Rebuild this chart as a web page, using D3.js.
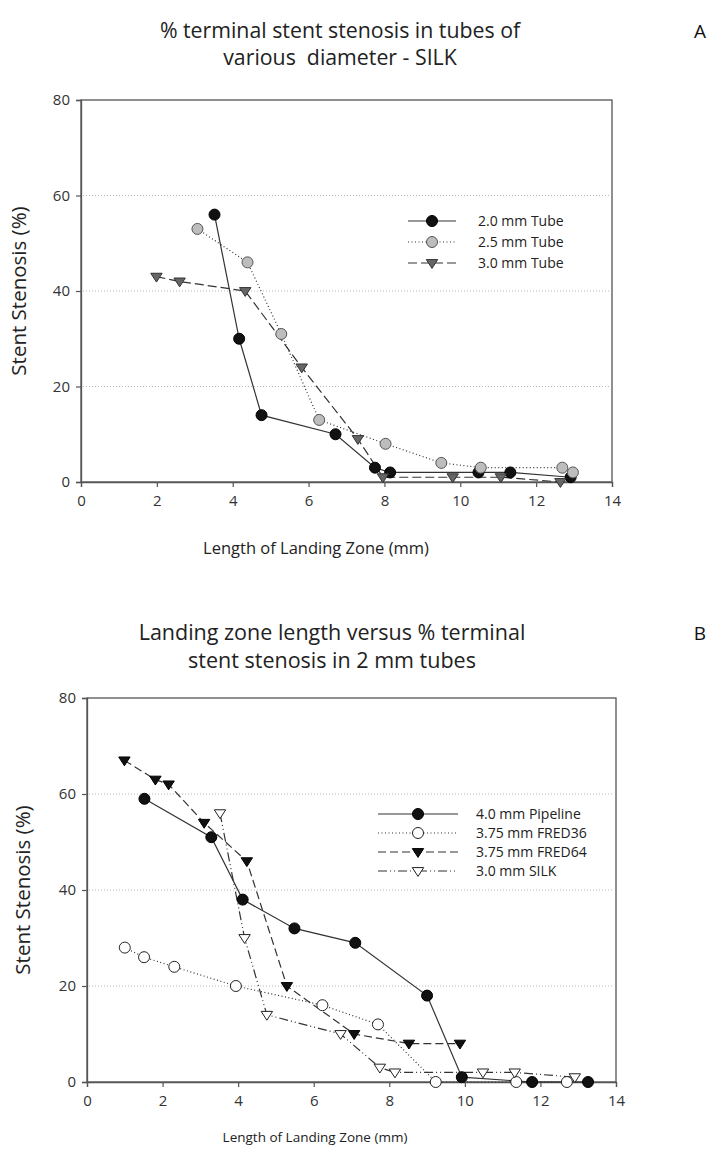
<!DOCTYPE html>
<html><head><meta charset="utf-8">
<script src="https://cdn.jsdelivr.net/npm/d3@7"></script>
<style>
html,body{margin:0;padding:0;background:#fff;}
svg{display:block;font-family:"Open Sans","Noto Sans",sans-serif;}
text{white-space:pre;}
</style></head>
<body><svg id="c" width="712" height="1153"></svg>
<script>
// ---- data ----
const xTicks = [0, 2, 4, 6, 8, 10, 12, 14];
const yTicks = [0, 20, 40, 60, 80];
const gridTicks = [20, 40, 60];

// Panel A
const titleA = ["% terminal stent stenosis in tubes of", "various  diameter - SILK"];
const seriesNamesA = ["2.0 mm Tube", "2.5 mm Tube", "3.0 mm Tube"];
const tube20X = [3.52, 4.17, 4.76, 6.71, 7.75, 8.15, 10.48, 11.32, 12.91];
const tube20Y = [56, 30, 14, 10, 3, 2, 2, 2, 1];
const tube25X = [3.07, 4.39, 5.28, 6.28, 8.03, 9.50, 10.54, 12.69, 12.97];
const tube25Y = [53, 46, 31, 13, 8, 4, 3, 3, 2];
const tube30X = [1.99, 2.60, 4.33, 5.82, 7.30, 7.96, 9.80, 11.07, 12.64];
const tube30Y = [43, 42, 40, 24, 9, 1, 1, 1, 0];

// Panel B
const titleB = ["Landing zone length versus % terminal", "stent stenosis in 2 mm tubes"];
const seriesNamesB = ["4.0 mm Pipeline", "3.75 mm FRED36", "3.75 mm FRED64", "3.0 mm SILK"];
const pipelineX = [1.52, 3.29, 4.12, 5.49, 7.10, 9.00, 9.92, 11.78, 13.26];
const pipelineY = [59, 51, 38, 32, 29, 18, 1, 0, 0];
const fred36X = [1.00, 1.51, 2.31, 3.94, 6.23, 7.70, 9.23, 11.36, 12.70];
const fred36Y = [28, 26, 24, 20, 16, 12, 0, 0, 0];
const fred64X = [0.99, 1.81, 2.16, 3.10, 4.23, 5.29, 7.07, 8.52, 9.87];
const fred64Y = [67, 63, 62, 54, 46, 20, 10, 8, 8];
const silkX = [3.52, 4.17, 4.76, 6.71, 7.75, 8.15, 10.48, 11.32, 12.91];
const silkY = [56, 30, 14, 10, 3, 2, 2, 2, 1];

const xLabel = "Length of Landing Zone (mm)";
const yLabel = "Stent Stenosis (%)";

// ---- drawing ----
const svg = d3.select("#c");
const zip = (xs, ys) => xs.map((x, i) => ({x, y: ys[i]}));

function marker(g, shape, cx, cy, st) {
  if (shape === "circle") {
    g.append("circle").attr("cx", cx).attr("cy", cy).attr("r", st.r || 5.5)
      .attr("fill", st.fill).attr("stroke", st.stroke).attr("stroke-width", 1);
  } else {
    const s = st.s || 5.7;
    g.append("path")
      .attr("d", `M${cx - s},${cy - s * 0.6}L${cx + s},${cy - s * 0.6}L${cx},${cy + s * 0.95}Z`)
      .attr("fill", st.fill).attr("stroke", st.stroke).attr("stroke-width", 1)
      .attr("stroke-linejoin", "miter");
  }
}

function panel(cfg) {
  const x = d3.scaleLinear().domain([0, 14]).range([cfg.x0, cfg.x1]);
  const y = d3.scaleLinear().domain([0, 80]).range([cfg.y0, cfg.y1]);
  const g = svg.append("g");

  // title
  cfg.title.forEach((t, i) => {
    g.append("text").attr("x", cfg.titleX).attr("y", cfg.titleY + i * cfg.titleGap)
      .attr("text-anchor", "middle").style("font-size", cfg.titleSize + "px").attr("fill", "#222").text(t);
  });
  g.append("text").attr("x", 700).attr("y", cfg.letterY).attr("text-anchor", "middle")
    .style("font-size", "19px").attr("fill", "#111").text(cfg.letter);

  // gridlines
  g.selectAll(".grid").data(gridTicks).enter().append("line")
    .attr("x1", cfg.x0 + 2).attr("x2", cfg.x1 - 2)
    .attr("y1", d => y(d)).attr("y2", d => y(d))
    .attr("stroke", "#b8b8b8").attr("stroke-width", 1).attr("stroke-dasharray", "1,2");

  // frame
  g.append("rect").attr("x", cfg.x0).attr("y", cfg.y1).attr("width", cfg.x1 - cfg.x0)
    .attr("height", cfg.y0 - cfg.y1).attr("fill", "none").attr("stroke", "#555").attr("stroke-width", 1.3);

  // axes
  const ax = g.append("g").attr("transform", `translate(0,${cfg.y0})`)
    .call(d3.axisBottom(x).tickValues(xTicks).tickSize(5).tickPadding(8).tickFormat(d3.format("d")));
  const ay = g.append("g").attr("transform", `translate(${cfg.x0},0)`)
    .call(d3.axisLeft(y).tickValues(yTicks).tickSize(5).tickPadding(6).tickFormat(d3.format("d")));
  [ax, ay].forEach(a => {
    a.attr("font-family", null).attr("font-size", null);
    a.select(".domain").attr("stroke", "#555").attr("stroke-width", 1.3);
    a.selectAll(".tick line").attr("stroke", "#555").attr("stroke-width", 1.2);
    a.selectAll(".tick text").style("font-size", cfg.tickSize + "px").attr("fill", "#333");
  });

  // axis titles
  g.append("text").attr("x", cfg.xLabelX).attr("y", cfg.xLabelY).attr("text-anchor", "middle")
    .style("font-size", cfg.xLabelSize + "px").attr("fill", "#222").text(xLabel);
  g.append("text").attr("transform", `translate(${cfg.yLabelX},${(cfg.y0 + cfg.y1) / 2}) rotate(-90)`)
    .attr("text-anchor", "middle").style("font-size", cfg.yLabelSize + "px").attr("fill", "#222").text(yLabel);

  // series
  const line = d3.line().x(d => x(d.x)).y(d => y(d.y));
  cfg.series.forEach(s => {
    g.append("path").datum(zip(s.xs, s.ys)).attr("d", line).attr("fill", "none")
      .attr("stroke", "#333").attr("stroke-width", 1.2).attr("stroke-dasharray", s.dash);
  });
  cfg.series.forEach(s => {
    const mg = g.append("g");
    zip(s.xs, s.ys).forEach(d => marker(mg, s.shape, x(d.x), y(d.y), s));
  });

  // legend
  const lg = g.append("g");
  cfg.series.forEach((s, i) => {
    const yy = cfg.legY + i * cfg.legGap;
    lg.append("line").attr("x1", cfg.legX0).attr("x2", cfg.legX1).attr("y1", yy).attr("y2", yy)
      .attr("stroke", "#333").attr("stroke-width", 1.2).attr("stroke-dasharray", s.dash);
    marker(lg, s.shape, (cfg.legX0 + cfg.legX1) / 2, yy, s);
    lg.append("text").attr("x", cfg.legTextX).attr("y", yy).attr("dy", "0.35em")
      .style("font-size", cfg.legSize + "px").attr("fill", "#222").text(cfg.names[i]);
  });
}

panel({
  x0: 81, x1: 612, y0: 482, y1: 100,
  title: titleA, titleX: 340, titleY: 38, titleGap: 27, titleSize: 21.3,
  letter: "A", letterY: 38,
  tickSize: 15, xLabelX: 316, xLabelY: 554, xLabelSize: 16.5, yLabelX: 26, yLabelSize: 20.5,
  names: seriesNamesA,
  legX0: 408, legX1: 456, legTextX: 478, legY: 221, legGap: 21, legSize: 14,
  series: [
    {xs: tube20X, ys: tube20Y, shape: "circle", fill: "#111", stroke: "#000", dash: null},
    {xs: tube25X, ys: tube25Y, shape: "circle", fill: "#bdbdbd", stroke: "#555", dash: "1,2.5"},
    {xs: tube30X, ys: tube30Y, shape: "tri", fill: "#666", stroke: "#333", dash: "9,4"}
  ]
});

panel({
  x0: 87, x1: 616, y0: 1082, y1: 698,
  title: titleB, titleX: 332, titleY: 640, titleGap: 28, titleSize: 21.5,
  letter: "B", letterY: 640,
  tickSize: 15, xLabelX: 315, xLabelY: 1142, xLabelSize: 13.5, yLabelX: 30, yLabelSize: 20.5,
  names: seriesNamesB,
  legX0: 378, legX1: 458, legTextX: 476, legY: 814, legGap: 19, legSize: 14,
  series: [
    {xs: pipelineX, ys: pipelineY, shape: "circle", fill: "#111", stroke: "#000", dash: null},
    {xs: fred36X, ys: fred36Y, shape: "circle", fill: "#fff", stroke: "#222", dash: "1,2.5"},
    {xs: fred64X, ys: fred64Y, shape: "tri", fill: "#111", stroke: "#000", dash: "8,4"},
    {xs: silkX, ys: silkY, shape: "tri", fill: "#fff", stroke: "#222", dash: "9,3,1,3,1,3"}
  ]
});
</script></body></html>
